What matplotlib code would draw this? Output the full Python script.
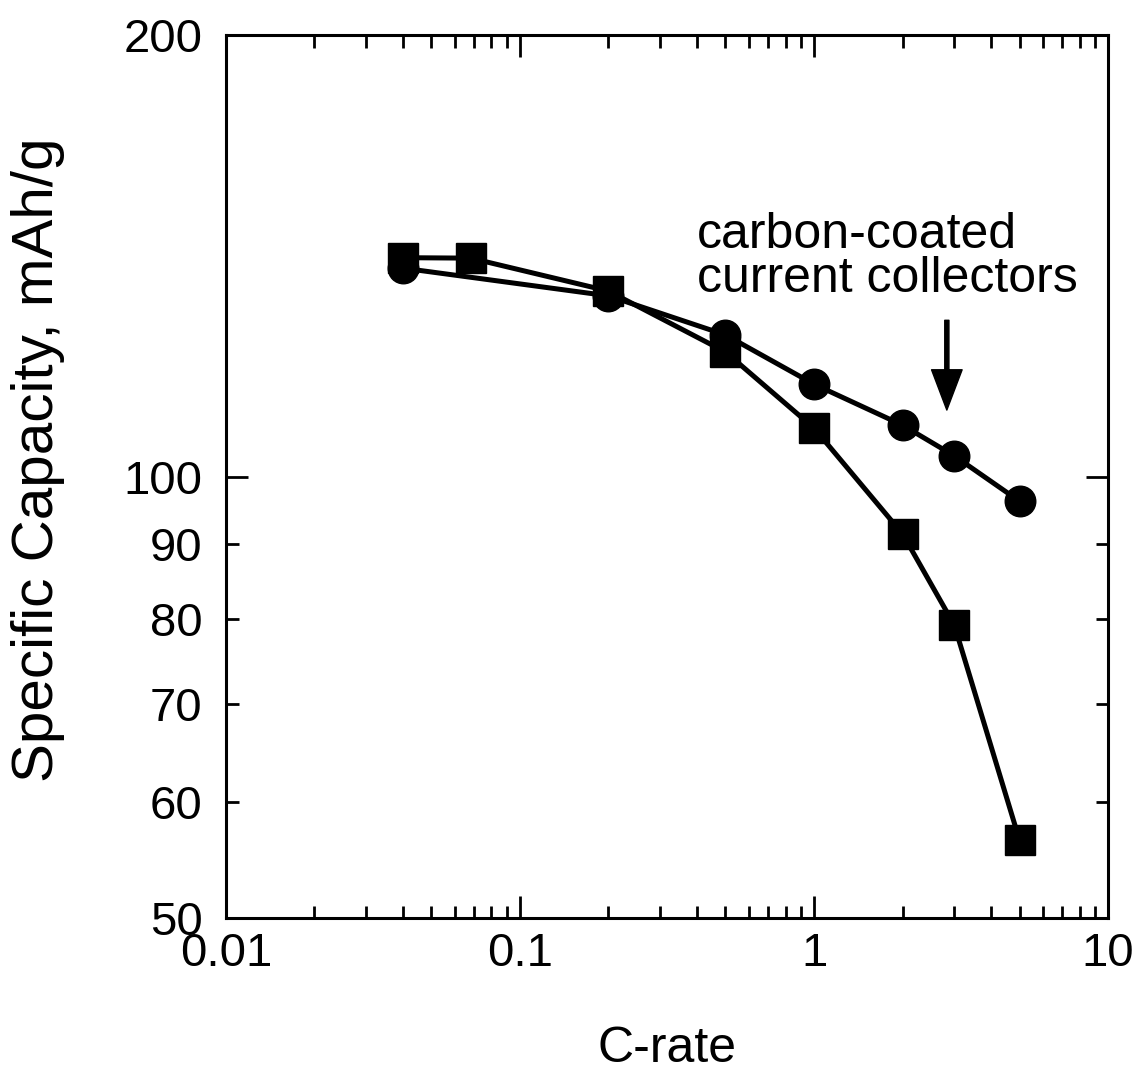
import matplotlib
matplotlib.use("Agg")
import matplotlib.pyplot as plt
from matplotlib.ticker import FixedLocator, NullFormatter

plt.rcParams['font.family'] = ['Liberation Sans', 'DejaVu Sans']

# data
rate_circle = [0.04, 0.2, 0.5, 1, 2, 3, 5]
cap_circle = [138.7, 132.8, 124.9, 115.6, 108.4, 103.3, 96.2]
rate_square = [0.04, 0.068, 0.2, 0.5, 1, 2, 3, 5]
cap_square = [141.0, 140.9, 133.8, 121.6, 107.9, 91.4, 79.2, 56.5]

y_major = [50, 100, 200]
y_minor = [60, 70, 80, 90]
x_ticks = [0.01, 0.1, 1, 10]
x_labels = ['0.01', '0.1', '1', '10']

fig = plt.figure(figsize=(11.43, 10.78), dpi=100)
ax = fig.add_axes([0.1977, 0.1484, 0.7717, 0.8191])

ax.plot(rate_circle, cap_circle, '-o', color='black', lw=3.6, ms=22, zorder=3)
ax.plot(rate_square, cap_square, '-s', color='black', lw=3.6, ms=22, zorder=4)

ax.set_xscale('log')
ax.set_yscale('log')
ax.set_xlim(0.01, 10)
ax.set_ylim(50, 200)

ax.xaxis.set_major_locator(FixedLocator(x_ticks))
ax.set_xticklabels(x_labels)
ax.xaxis.set_minor_formatter(NullFormatter())

ax.yaxis.set_major_locator(FixedLocator(y_major))
ax.yaxis.set_minor_locator(FixedLocator(y_minor))
ax.set_yticklabels([str(v) for v in y_major])
ax.set_yticklabels([str(v) for v in y_minor], minor=True)

ax.tick_params(which='both', direction='in', top=True, right=True, width=2)
ax.tick_params(which='major', length=16, labelsize=34, pad=10)
ax.tick_params(which='minor', length=9, labelsize=34, pad=10)
ax.tick_params(axis='y', which='both', pad=17)

for s in ax.spines.values():
    s.set_linewidth(2.2)

ax.set_xlabel('C-rate', fontsize=36, labelpad=36)
ax.set_ylabel('Specific Capacity, mAh/g', fontsize=42)
ax.yaxis.set_label_coords(-0.183, 0.519)

ax.text(0.4, 131.5, 'carbon-coated\ncurrent collectors', fontsize=36,
        ha='left', va='bottom', linespacing=0.95)
ax.annotate('', xy=(2.83, 111.0), xytext=(2.83, 127.8),
            arrowprops=dict(width=3, headwidth=22, headlength=29,
                            facecolor='black', edgecolor='black', shrink=0))

fig.savefig('out.png', dpi=100)
